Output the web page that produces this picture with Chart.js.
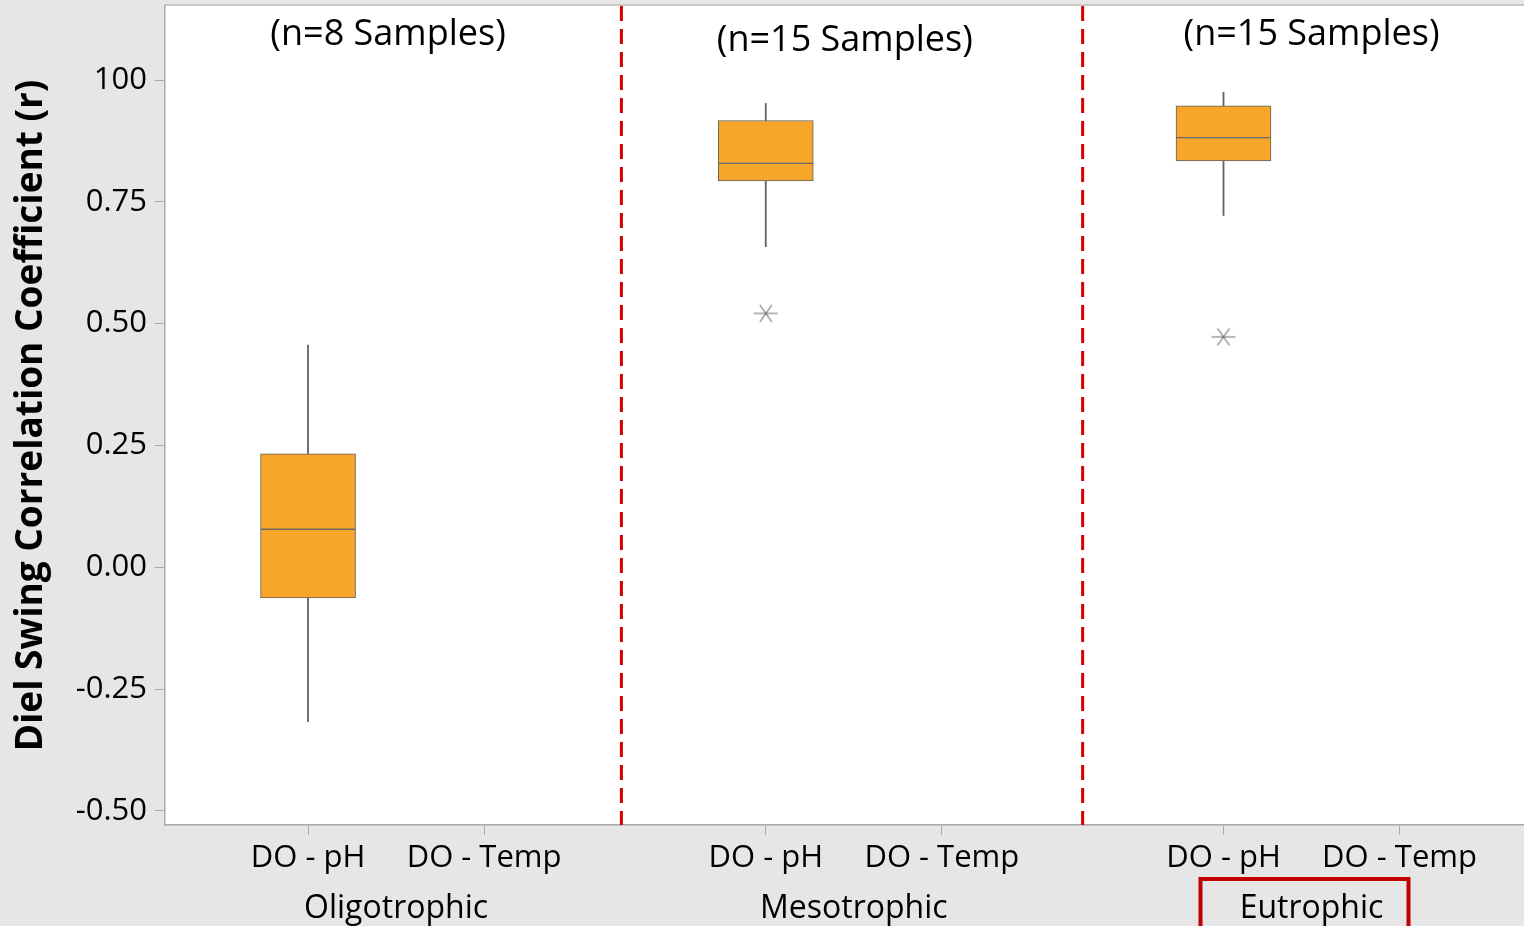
<!DOCTYPE html>
<html>
<head>
<meta charset="utf-8">
<title>Diel swing correlation by trophic state</title>
<script src="https://cdn.jsdelivr.net/npm/chart.js@4.4.1/dist/chart.umd.min.js"></script>
<style>
  html, body { margin: 0; padding: 0; background: #e6e6e6; overflow: hidden; }
  #wrap { width: 1524px; height: 926px; position: relative; }
</style>
</head>
<body>
<div id="wrap"><canvas id="chart" width="1524" height="926"></canvas></div>
<script>
// ---- data ----
const categoryLabels = ['DO - pH', 'DO - Temp', 'DO - pH', 'DO - Temp', 'DO - pH', 'DO - Temp'];
const categoryPos = [0.8, 1.8, 3.4, 4.4, 6.0, 7.0];
const groupLabels = ['Oligotrophic', 'Mesotrophic', 'Eutrophic'];
const groupPos = [1.3, 3.9, 6.5];
const sampleNotes = ['(n=8 Samples)', '(n=15 Samples)', '(n=15 Samples)'];
const dividerPos = [2.58, 5.2];

// DO - pH box statistics per trophic group
const boxPos = [0.8, 3.4, 6.0];
const whiskerLow = [-0.317, 0.658, 0.722];
const quart1 = [-0.063, 0.793, 0.834];
const median = [0.078, 0.829, 0.882];
const quart3 = [0.233, 0.917, 0.947];
const whiskerHigh = [0.456, 0.952, 0.975];
const outlierPos = [3.4, 6.0];
const outlierVal = [0.521, 0.473];

const yTickValues = [-0.5, -0.25, 0, 0.25, 0.5, 0.75, 1.0];
const yTickLabels = ['-0.50', '-0.25', '0.00', '0.25', '0.50', '0.75', '100'];

// ---- layout / style ----
const X_MIN = -0.0125, X_MAX = 7.707;
const Y_MIN = -0.529, Y_MAX = 1.152;
const BOX_HALF = 0.27;
const FONT = "'Open Sans', 'Noto Sans', sans-serif";
const AXIS_GREY = '#a9a9a9';
const BOX_FILL = '#F8A62A';
const LINE_GREY = '#666666';
// pixel nudges for the sample-size notes (x shift, drop from the top of the plot)
const NOTE_SHIFT = [-8, -9, 0];
const NOTE_DROP = [29, 35, 29];

// six-armed asterisk used for outliers
function asteriskMarker() {
  const c = document.createElement('canvas');
  c.width = 26; c.height = 20;
  const g = c.getContext('2d');
  g.strokeStyle = '#6f6f6f';
  g.lineWidth = 1.1;
  g.beginPath();
  g.moveTo(1, 10); g.lineTo(25, 10);
  g.moveTo(7, 1.5); g.lineTo(19, 18.5);
  g.moveTo(19, 1.5); g.lineTo(7, 18.5);
  g.stroke();
  return c;
}

const whiskerData = boxPos.map((x, i) => ({ x, y: [whiskerLow[i], whiskerHigh[i]] }));
const boxData = boxPos.map((x, i) => ({ x, y: [quart1[i], quart3[i]] }));
const medianData = [];
boxPos.forEach((x, i) => {
  medianData.push({ x: x - BOX_HALF, y: median[i] }, { x: x + BOX_HALF, y: median[i] }, { x, y: null });
});
const outlierData = outlierPos.map((x, i) => ({ x, y: outlierVal[i] }));
const dividerData = [];
dividerPos.forEach(x => {
  dividerData.push({ x, y: Y_MAX }, { x, y: Y_MIN }, { x, y: null });
});

// keep the plot area flush with the axis boxes
const noEdgePadding = s => {
  s.paddingLeft = 0; s.paddingRight = 0; s.paddingTop = 0; s.paddingBottom = 0;
};

// panel background, frame, sample-size notes and highlighted group label
const framePlugin = {
  id: 'frame',
  beforeDraw(chart) {
    const { ctx, chartArea: a, width, height } = chart;
    ctx.save();
    ctx.fillStyle = '#e6e6e6';
    ctx.fillRect(0, 0, width, height);
    ctx.fillStyle = '#ffffff';
    ctx.fillRect(a.left, a.top, a.right - a.left, a.bottom - a.top);
    ctx.strokeStyle = '#c8c8c8';
    ctx.lineWidth = 2;
    ctx.beginPath();
    ctx.moveTo(a.left, a.top - 1);
    ctx.lineTo(a.right, a.top - 1);
    ctx.stroke();
    ctx.restore();
  },
  afterDraw(chart) {
    const { ctx, chartArea: a } = chart;
    const xs = chart.scales.x;
    ctx.save();
    ctx.fillStyle = '#000';
    ctx.font = `36px ${FONT}`;
    ctx.textAlign = 'center';
    ctx.textBaseline = 'middle';
    sampleNotes.forEach((t, i) => {
      ctx.fillText(t, xs.getPixelForValue(groupPos[i]) + NOTE_SHIFT[i], a.top + NOTE_DROP[i]);
    });
    // box around the last group label
    const gs = chart.scales.xGroup;
    const cx = gs.getPixelForValue(groupPos[2]);
    ctx.strokeStyle = '#c00000';
    ctx.lineWidth = 4;
    ctx.strokeRect(cx - 111, a.bottom + 54, 208, 60);
    ctx.restore();
  }
};

new Chart(document.getElementById('chart'), {
  type: 'bar',
  data: {
    datasets: [
      {
        label: 'whiskers', data: whiskerData, barThickness: 1.2, grouped: false,
        backgroundColor: LINE_GREY, borderWidth: 0, order: 4
      },
      {
        label: 'boxes', data: boxData, barThickness: 95, grouped: false,
        backgroundColor: BOX_FILL, borderColor: '#606060', borderWidth: 1,
        borderSkipped: false, order: 3
      },
      {
        type: 'line', label: 'median', data: medianData, borderColor: '#6a6a6a',
        borderWidth: 1.3, pointRadius: 0, spanGaps: false, tension: 0, order: 2
      },
      {
        type: 'scatter', label: 'outliers', data: outlierData,
        pointStyle: asteriskMarker(), pointRadius: 12, order: 1
      },
      {
        type: 'line', label: 'dividers', data: dividerData, borderColor: '#d40000',
        borderWidth: 3, borderDash: [15, 8], pointRadius: 0, spanGaps: false, order: 0
      }
    ]
  },
  options: {
    responsive: false,
    devicePixelRatio: 1,
    animation: false,
    layout: { autoPadding: false, padding: { top: 6, left: 0, right: 0, bottom: 0 } },
    plugins: { legend: { display: false }, tooltip: { enabled: false } },
    scales: {
      x: {
        type: 'linear', position: 'bottom', min: X_MIN, max: X_MAX, offset: false,
        afterBuildTicks: s => { s.ticks = categoryPos.map(v => ({ value: v })); },
        afterFit: s => { s.height = 62; noEdgePadding(s); },
        ticks: {
          callback: (v, i) => categoryLabels[i],
          autoSkip: false, maxRotation: 0, padding: 5,
          color: '#000', font: { family: FONT, size: 31 }
        },
        grid: { offset: false, drawOnChartArea: false, drawTicks: true, tickLength: 10, color: AXIS_GREY },
        border: { color: AXIS_GREY, width: 1.5 }
      },
      xGroup: {
        type: 'linear', axis: 'x', position: 'bottom', min: X_MIN, max: X_MAX, offset: false,
        afterBuildTicks: s => { s.ticks = groupPos.map(v => ({ value: v })); },
        afterFit: s => { s.height = 39; noEdgePadding(s); },
        ticks: {
          callback: (v, i) => groupLabels[i],
          autoSkip: false, maxRotation: 0, padding: 3,
          color: '#000', font: { family: FONT, size: 32 }
        },
        grid: { offset: false, display: false, drawTicks: false },
        border: { display: false }
      },
      y: {
        min: Y_MIN, max: Y_MAX,
        afterBuildTicks: s => { s.ticks = yTickValues.map(v => ({ value: v })); },
        afterFit: s => { s.width = 165; noEdgePadding(s); },
        ticks: {
          callback: (v, i) => yTickLabels[i],
          padding: 8, color: '#000', font: { family: FONT, size: 31 }
        },
        grid: { drawOnChartArea: false, drawTicks: true, tickLength: 10, color: AXIS_GREY },
        border: { color: AXIS_GREY, width: 1.5 },
        title: {
          display: true, text: 'Diel Swing Correlation Coefficient (r)',
          color: '#000', padding: { top: 13, bottom: 0 },
          font: { family: FONT, size: 37, weight: 'bold', lineHeight: 1 }
        }
      }
    }
  },
  plugins: [framePlugin]
});
</script>
</body>
</html>
